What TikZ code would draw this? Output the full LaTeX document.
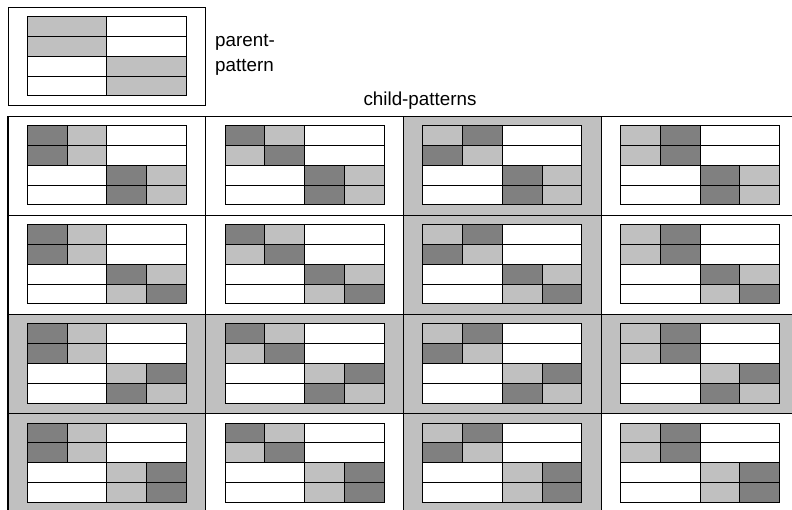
\documentclass[tikz,border=0pt]{standalone}
\usepackage{fontspec}
\setmainfont{Liberation Sans}
\definecolor{dk}{HTML}{808080}
\definecolor{lt}{HTML}{C0C0C0}
\tikzset{
  patline/.style={draw=black, line width=1pt},
  gridline/.style={draw=black, line width=1.2pt},
  lbl/.style={inner sep=0pt, font=\fontsize{18.8}{25}\selectfont}
}
\begin{document}
\begin{tikzpicture}[x=1pt,y=-1pt]
\useasboundingbox (0,0) rectangle (792,510);
\clip (0,0) rectangle (792,510);
% parent pattern
\draw[line width=1pt] (8,8) rectangle (205.5,106);
\begin{scope}[shift={(27.3,17)}]
  \fill[white] (0,0) rectangle (159,79);
  \fill[lt] (0,0) rectangle (79.5,39.5);
  \fill[lt] (79.5,39.5) rectangle (159,79);
  \draw[patline] (0,0) rectangle (159,79);
  \foreach \h in {19.75,39.5,59.25} \draw[patline] (0,\h) -- (159,\h);
  \draw[patline] (79.5,0) -- (79.5,79);
\end{scope}
\node[lbl, anchor=base west] (parentlbl1) at (215,46.7) {parent-};
\node[lbl, anchor=base west] (parentlbl2) at (215,71.7) {pattern};
\node[lbl, anchor=base] (childlbl) at (420,106) {child-patterns};
% gray cell backgrounds
\foreach \i/\j in {1/3,2/3,3/1,3/2,3/3,3/4,4/1,4/3}{
  \fill[lt] ({8+(\j-1)*197.8},{116.5+(\i-1)*99}) rectangle ++(197.8,99);
}
% grid lines
\foreach \k in {0,1,2,3,4}{
  \draw[gridline] ({8+\k*197.8},116.5) -- ({8+\k*197.8},520);
  \draw[gridline] (8,{116.5+\k*99}) -- (800,{116.5+\k*99});
}
% child patterns
\foreach \i/\bp/\bq/\br/\bs in {1/dk/lt/dk/lt, 2/dk/lt/lt/dk, 3/lt/dk/dk/lt, 4/lt/dk/lt/dk}{
  \foreach \j/\ta/\tb/\tc/\td in {1/dk/lt/dk/lt, 2/dk/lt/lt/dk, 3/lt/dk/dk/lt, 4/lt/dk/lt/dk}{
    \begin{scope}[shift={({8+(\j-1)*197.8+19.3},{116.5+(\i-1)*99+9.5})}]
      \fill[white] (0,0) rectangle (159,79);
      \fill[\ta] (0,0) rectangle (39.7,19.75);
      \fill[\tb] (39.7,0) rectangle (79.5,19.75);
      \fill[\tc] (0,19.75) rectangle (39.7,39.5);
      \fill[\td] (39.7,19.75) rectangle (79.5,39.5);
      \fill[\bp] (79.5,39.5) rectangle (119.2,59.25);
      \fill[\bq] (119.2,39.5) rectangle (159,59.25);
      \fill[\br] (79.5,59.25) rectangle (119.2,79);
      \fill[\bs] (119.2,59.25) rectangle (159,79);
      \draw[patline] (0,0) rectangle (159,79);
      \foreach \h in {19.75,39.5,59.25} \draw[patline] (0,\h) -- (159,\h);
      \draw[patline] (79.5,0) -- (79.5,79);
      \draw[patline] (39.7,0) -- (39.7,39.5);
      \draw[patline] (119.2,39.5) -- (119.2,79);
    \end{scope}
  }
}
\end{tikzpicture}
\end{document}
